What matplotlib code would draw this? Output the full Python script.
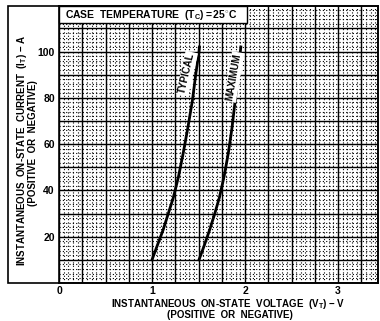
import numpy as np
import matplotlib
matplotlib.use('Agg')
import matplotlib.pyplot as plt
from matplotlib.patches import Rectangle

plt.rcParams['font.family'] = ['Liberation Sans', 'DejaVu Sans']
plt.rcParams['font.weight'] = 'bold'
plt.rcParams['mathtext.fontset'] = 'custom'
plt.rcParams['mathtext.bf'] = 'Liberation Sans:bold'
plt.rcParams['mathtext.rm'] = 'Liberation Sans:bold'
plt.rcParams['mathtext.default'] = 'bf'

# on-state current (A) and voltage (V)
typical_i = [10, 16, 23, 30, 37, 46, 56, 67, 79, 90, 100, 102]
typical_v = [1.00, 1.055, 1.12, 1.175, 1.23, 1.285, 1.335, 1.385, 1.435, 1.47, 1.505, 1.51]
maximum_i = [10, 16, 23, 30, 37, 46, 56, 67, 79, 90, 100, 102]
maximum_v = [1.505, 1.56, 1.62, 1.675, 1.725, 1.775, 1.82, 1.86, 1.895, 1.925, 1.95, 1.955]

x_ticks = [0, 1, 2, 3]
x_tick_labels = ['0', '1', '2', '3']
y_ticks = [20, 40, 60, 80, 100]
y_tick_labels = ['20', '40', '60', '80', '100']

fig = plt.figure(figsize=(3.8, 3.21), dpi=100)
ax = fig.add_axes([59 / 380, 38 / 321, 319 / 380, 277 / 321])
ax.set_xlim(0, 3.43)
ax.set_ylim(0, 119.7)

# graph paper: fine dotted lines, heavy lines every 0.25 V / 10 A
for xv in np.arange(0, 3.45, 0.05):
    ax.axvline(xv, color='black', lw=0.8, ls=(0, (1, 2)), zorder=0.5)
for yv in np.arange(0, 120, 2):
    ax.axhline(yv, color='black', lw=0.8, ls=(0, (1, 2)), zorder=0.5)
for xv in np.arange(0, 3.5, 0.25):
    ax.axvline(xv, color='black', lw=1.0, zorder=1)
for yv in np.arange(0, 120, 10):
    ax.axhline(yv, color='black', lw=1.0, zorder=1)

ax.set_xticks(x_ticks, labels=x_tick_labels)
ax.set_yticks(y_ticks, labels=y_tick_labels)
ax.minorticks_off()
ax.tick_params(length=0, labelsize=7.5)
ax.tick_params(axis='x', pad=2.5)
ax.tick_params(axis='y', pad=3)

ax.plot(typical_v, typical_i, color='black', lw=2.0, zorder=3)
ax.plot(maximum_v, maximum_i, color='black', lw=2.0, zorder=3)

ax.text(1.375, 90.5, 'TYPICAL', rotation=77, ha='center', va='center', fontsize=7,
        bbox=dict(facecolor='white', edgecolor='none', pad=1.0), zorder=4)
ax.text(1.88, 89, 'MAXIMUM', rotation=80, ha='center', va='center', fontsize=7,
        bbox=dict(facecolor='white', edgecolor='none', pad=1.0), zorder=4)

# case temperature box
ax.add_patch(Rectangle((0, 112.3), 2.02, 7.4, facecolor='white', edgecolor='black',
                       lw=1.0, zorder=4, clip_on=False))
ax.text(0.065, 116.0, r'CASE  TEMPERATURE  (T$_C$)$\,$=$\,$25$^{\circ}$C', fontsize=7.5,
        ha='left', va='center', zorder=5)

for s in ax.spines.values():
    s.set_linewidth(1.2)

# outer frame round the labels
fig.add_artist(Rectangle((8 / 380, 38 / 321), 370 / 380, 277 / 321, fill=False,
                         edgecolor='black', lw=1.2, transform=fig.transFigure))

fig.text(22 / 380, 1 - 150 / 321, r'INSTANTANEOUS  ON-STATE  CURRENT  (I$_T$) $-$ A',
         rotation=90, ha='center', va='center', fontsize=7)
fig.text(33 / 380, 1 - 143 / 321, '(POSITIVE  OR  NEGATIVE)', rotation=90,
         ha='center', va='center', fontsize=7)
fig.text(228 / 380, 1 - 304 / 321, r'INSTANTANEOUS  ON-STATE  VOLTAGE  (V$_T$) $-$ V',
         ha='center', va='center', fontsize=7)
fig.text(230 / 380, 1 - 315 / 321, '(POSITIVE  OR  NEGATIVE)',
         ha='center', va='center', fontsize=7)

fig.savefig('out.png', dpi=100)
